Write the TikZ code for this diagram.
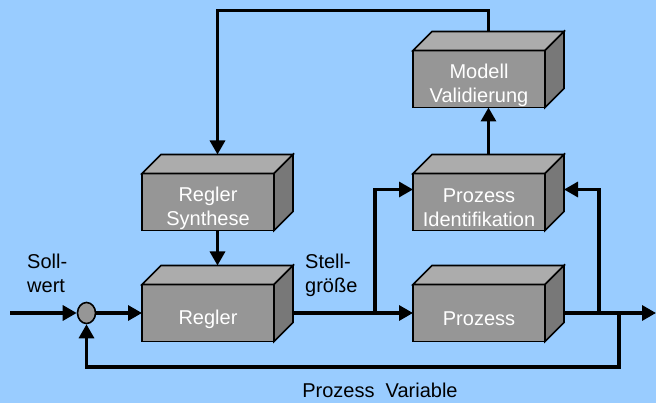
\documentclass[tikz,border=0pt]{standalone}
\usepackage{fontspec}
\setmainfont{Liberation Sans}
\usepackage{tikz}
\usetikzlibrary{arrows.meta,positioning,shapes.geometric}
\definecolor{col1}{RGB}{153,204,255}
\definecolor{col2}{RGB}{150,150,150}
\definecolor{col3}{RGB}{172,172,172}
\definecolor{col4}{RGB}{120,120,120}
\tikzstyle{blk}=[draw, line width=1.6pt, fill=col2, outer sep=0pt, inner sep=0pt, minimum width=132pt, minimum height=57pt]
\tikzstyle{face}=[draw, line width=1.6pt]
\tikzstyle{txt}=[text=white, align=center, yshift=-6pt]
\tikzstyle{sig}=[->, line width=3.2pt]
\tikzstyle{sumpt}=[draw, ellipse, line width=1.6pt, fill=col2, inner sep=0pt, minimum width=18pt, minimum height=21pt]
\tikzstyle{lbl}=[inner sep=0pt, align=left]
% top and side faces of a block
\newcommand{\boxfaces}[1]{%
  \draw[face, fill=col3] (#1.north west) -- ([shift={(19,-19)}]#1.north west) -- ([shift={(19,-19)}]#1.north east) -- (#1.north east) -- cycle;
  \draw[face, fill=col4] (#1.north east) -- ([shift={(19,-19)}]#1.north east) -- ([shift={(19,-19)}]#1.south east) -- (#1.south east) -- cycle;}
\begin{document}
\begin{tikzpicture}[x=1pt,y=-1pt,>={Triangle[length=14pt,width=15pt]},font=\fontsize{20}{24}\selectfont]
    \fill[col1] (0,0) rectangle (656,403);
    \useasboundingbox (0,0) rectangle (656,403);
    % blocks
    \node [blk,label={[txt]center:Regler}] (rg) at (208,313) {};
    \node [blk,label={[txt]center:Prozess}] (pz) [right of=rg,node distance=271pt] {};
    \node [blk,label={[txt]center:Regler\\Synthese}] (rs) [above of=rg,node distance=111pt] {};
    \node [blk,label={[txt]center:Prozess\\Identifikation}] (pi) [above of=pz,node distance=111pt] {};
    \node [blk,label={[txt]center:Modell\\Validierung}] (mv) [above of=pi,node distance=123pt] {};
    \foreach \b in {rg,pz,rs,pi,mv} {\boxfaces{\b}}
    \node [sumpt] (sum) at (86.5,313) {};
    % signal points
    \coordinate (in) at (10,313);
    \coordinate (b1) at (375,313);
    \coordinate (b2) at (599,313);
    \coordinate (fb) at (619,313);
    \coordinate (out) at (656,313);
    \coordinate (fbc) at (619,367);
    \coordinate (lp) at (350,10.5);
    % texts
    \node [lbl,anchor=north west] (soll) at (27,253.5) {Soll-\\wert};
    \node [lbl,anchor=north west] (stell) at (305,253.5) {Stell-\\größe};
    \node [lbl,anchor=base] (pvar) at (380,397) {Prozess~~Variable};
    % connections
    \draw[sig] (in) -- (sum);
    \draw[sig] (sum) -- (rg);
    \draw[sig] ([xshift=19pt]rg.east) -- (pz.west);
    \draw[sig] (b1) |- ([yshift=12.5pt]pi.west);
    \draw[sig] ([xshift=19pt]pz.east) -- (out);
    \draw[sig] (b2) |- ([shift={(19,-12.5)}]pi.east);
    \draw[sig] (fb) -- (fbc) -| (sum);
    \draw[sig] ([shift={(9.5,-19)}]pi.north) -- ([xshift=9.5pt]mv.south);
    \draw[sig] ([shift={(9.5,-19)}]mv.north) |- (lp) -| ([shift={(9.5,-19)}]rs.north);
    \draw[sig] ([xshift=9.5pt]rs.south) -- ([shift={(9.5,-19)}]rg.north);
\end{tikzpicture}
\end{document}
